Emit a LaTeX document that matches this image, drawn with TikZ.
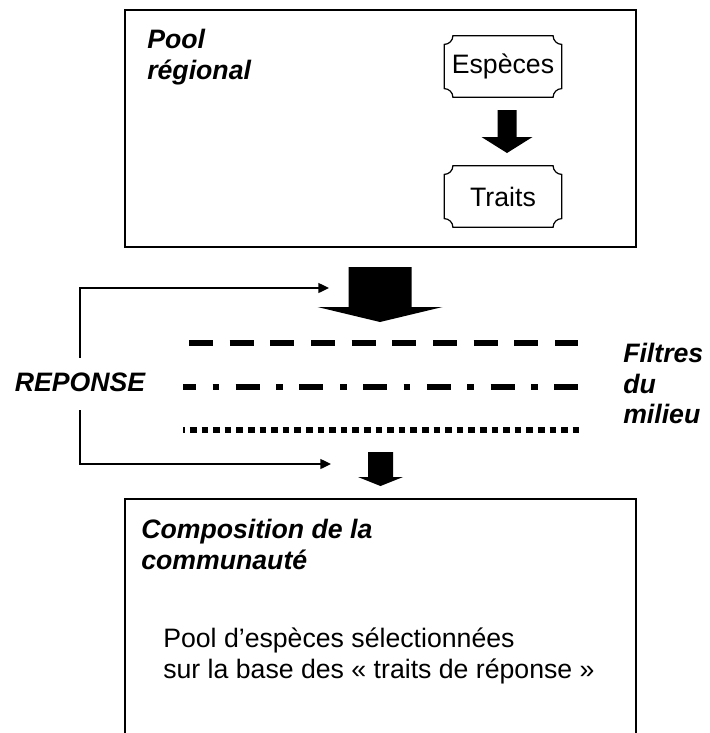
\documentclass[tikz,border=0pt]{standalone}
\usepackage{fontspec}
\setmainfont{Liberation Sans}
\usetikzlibrary{arrows.meta}

% border of a box with concave (inward) quarter-circle corners
\newcommand\plaqueborder[2]{%
  \draw[plaqueline]
    ([yshift=-#2]#1.north west) arc[start angle=-90,end angle=0,radius=#2]
    -- ([xshift=-#2]#1.north east) arc[start angle=180,end angle=270,radius=#2]
    -- ([yshift=#2]#1.south east) arc[start angle=90,end angle=180,radius=#2]
    -- ([xshift=#2]#1.south west) arc[start angle=0,end angle=90,radius=#2]
    -- cycle;}

% thick downward block arrow: name, x, top, neck, tip, half shaft, half head
\newcommand\blockarrow[7]{%
  \coordinate (#1) at (#2,#3);
  \fill (#2-#6,#3) -- (#2+#6,#3) -- (#2+#6,#4) -- (#2+#7,#4)
    -- (#2,#5) -- (#2-#7,#4) -- (#2-#6,#4) -- cycle;}

\begin{document}
\begin{tikzpicture}[x=0.75pt,y=-0.75pt,
  frame/.style={line width=2pt},
  plaqueline/.style={line width=0.9pt},
  txt/.style={inner sep=0pt,font=\fontsize{20}{23}\selectfont},
  title/.style={inner sep=0pt,align=left,
    font=\fontsize{20}{23}\selectfont\bfseries\itshape},
  plaque/.style={txt,minimum width=87.75pt,minimum height=45.75pt},
  feedback/.style={line width=1pt,-{Triangle[length=8pt,width=7.5pt]}},
  filter/.style={line width=5pt,line cap=butt}]

\useasboundingbox (0,0) rectangle (710,733);
\clip (0,0) rectangle (710,733);

% regional pool
\draw[frame] (125,10) rectangle (636,247);
\node[title,anchor=north west] (pool) at (147,29) {Pool\\régional};
\node[plaque] (esp) at (503,66.5) {Espèces};
\node[plaque] (tra) at (503,196.5) {Traits};
\plaqueborder{esp}{6.5pt}
\plaqueborder{tra}{6.5pt}
\blockarrow{a1}{507}{110}{137}{153}{9.5}{25.5}

% environmental filters
\blockarrow{a2}{380}{267}{307}{322}{31.5}{62.5}
\coordinate (d0) at (189,343);  \coordinate (d1) at (578,343);
\coordinate (m0) at (183,387);  \coordinate (m1) at (578,387);
\coordinate (p0) at (183,430);  \coordinate (p1) at (579,430);
\draw[filter,dash pattern=on 18pt off 12.5pt] (d0) -- (d1);
\draw[filter,dash pattern=on 18pt off 12.4pt on 4.9pt off 12.5pt,
  dash phase=8.25pt] (m0) -- (m1);
\draw[filter,dash pattern=on 5pt off 3.7pt,dash phase=3.5pt] (p0) -- (p1);
\node[title,anchor=north west] (filt) at (623,343) {Filtres\\du\\milieu};

% response loop
\node[title] (rep) at (80,382) {REPONSE};
\coordinate (in1) at (329,288);
\coordinate (in2) at (331,464);
\draw[feedback] ([yshift=11pt]rep.north) |- (in1);
\draw[feedback] ([yshift=-14pt]rep.south) |- (in2);
\blockarrow{a3}{380.5}{452}{477}{486}{12.5}{22.5}

% community composition
\draw[frame] (125,740) -- (125,499) -- (636,499) -- (636,740);
\node[title,anchor=north west] (comp) at (141,519) {Composition de la\\communauté};
\node[txt,align=left,anchor=north west] (sel) at (163,627.5)
  {Pool d’espèces sélectionnées\\sur la base des « traits de réponse »};

\end{tikzpicture}
\end{document}
